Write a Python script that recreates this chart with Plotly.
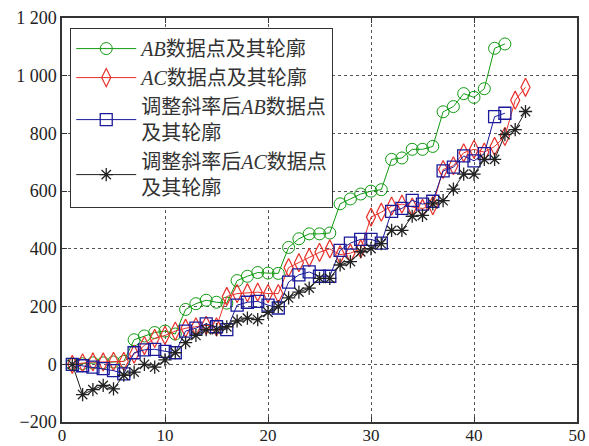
import plotly.graph_objects as go

# ---- data ----
x_ab = list(range(1, 44))
x_ac = list(range(1, 46))
ab_vals = [0, 2, 5, 5, 8, 10,
           85, 98, 110, 115, 105,
           190, 210, 222, 215, 212,
           290, 305, 318, 316, 315,
           405, 435, 452, 452, 455,
           556, 573, 590, 600, 605,
           710, 715, 745, 745, 755,
           875, 893, 938, 925, 955,
           1095, 1110]
ac_vals = [0, 5, 8, 8, 10, 10,
           35, 65, 90, 100, 115, 125, 130, 135, 130,
           235, 245, 248, 250, 245, 245,
           335, 352, 370, 388, 400, 380, 385, 400,
           510, 527, 548, 555, 545, 540, 550,
           675, 688, 733, 745, 735, 755, 790,
           915, 960]
ab_adj_vals = [0, -5, -10, -15, -22, -33,
               40, 50, 52, 45, 40,
               115, 125, 140, 130, 120,
               205, 215, 218, 205, 195,
               285, 310, 320, 305, 305,
               395, 420, 433, 433, 420,
               530, 540, 568, 555, 565,
               670, 683, 722, 705, 730,
               858, 870]
ac_adj_vals = [0, -105, -88, -73, -85, -38,
               -27, 0, -10, 15, 40,
               75, 100, 120, 120, 130,
               150, 160, 155, 180, 200,
               230, 250, 264, 298, 298,
               344, 356, 390, 401, 418,
               464, 464, 513, 516, 556,
               567, 607, 659, 659, 710,
               710, 796, 813, 876]

names = ["<i>AB</i>数据点及其轮廓",
         "<i>AC</i>数据点及其轮廓",
         "调整斜率后<i>AB</i>数据点<br>及其轮廓",
         "调整斜率后<i>AC</i>数据点<br>及其轮廓"]

y_tickvals = [-200, 0, 200, 400, 600, 800, 1000, 1200]
y_ticktext = ["−200", "0", "200", "400", "600", "800", "1 000", "1 200"]
x_tickvals = [0, 10, 20, 30, 40, 50]

FONT = "Liberation Serif, Noto Sans CJK SC, serif"

fig = go.Figure()
fig.add_trace(go.Scatter(x=x_ab, y=ab_vals, name=names[0], mode="lines+markers",
                         line=dict(color="#119a11", width=1),
                         marker=dict(symbol="circle-open", size=12, color="#119a11", line=dict(width=1))))
fig.add_trace(go.Scatter(x=x_ac, y=ac_vals, name=names[1], mode="lines+markers",
                         line=dict(color="#e8302a", width=1),
                         marker=dict(symbol="diamond-tall-open", size=13, color="#e8302a", line=dict(width=1.2))))
fig.add_trace(go.Scatter(x=x_ab, y=ab_adj_vals, name=names[2], mode="lines+markers",
                         line=dict(color="#1a1a9a", width=1),
                         marker=dict(symbol="square-open", size=12, color="#1a1a9a", line=dict(width=1.3))))
fig.add_trace(go.Scatter(x=x_ac, y=ac_adj_vals, name=names[3], mode="lines+markers",
                         line=dict(color="#222222", width=1),
                         marker=dict(symbol="asterisk-open", size=11, color="#222222", line=dict(width=1.3))))

axis_common = dict(showline=True, linecolor="#333", linewidth=1.5, mirror="ticks",
                   ticks="inside", ticklen=5, tickcolor="#333",
                   showgrid=True, gridcolor="#555", griddash="dot", gridwidth=1,
                   zeroline=False, automargin=False)

fig.update_xaxes(range=[0, 50], tickvals=x_tickvals, ticklabelstandoff=-3,
                 tickfont=dict(family=FONT, size=17, color="#222"), **axis_common)
fig.update_yaxes(range=[-200, 1200], tickvals=y_tickvals, ticktext=y_ticktext,
                 tickfont=dict(family=FONT, size=18, color="#222"), **axis_common)

fig.update_layout(
    width=589, height=446,
    margin=dict(l=62, r=12, t=18, b=24),
    paper_bgcolor="white", plot_bgcolor="white",
    font=dict(family=FONT, size=18, color="#222"),
    legend=dict(x=0.016, y=0.975, xanchor="left", yanchor="top",
                bgcolor="white", bordercolor="#333", borderwidth=1,
                itemwidth=60, tracegroupgap=0,
                font=dict(family=FONT, size=20, color="#333")),
)

fig.write_html("out.html")
